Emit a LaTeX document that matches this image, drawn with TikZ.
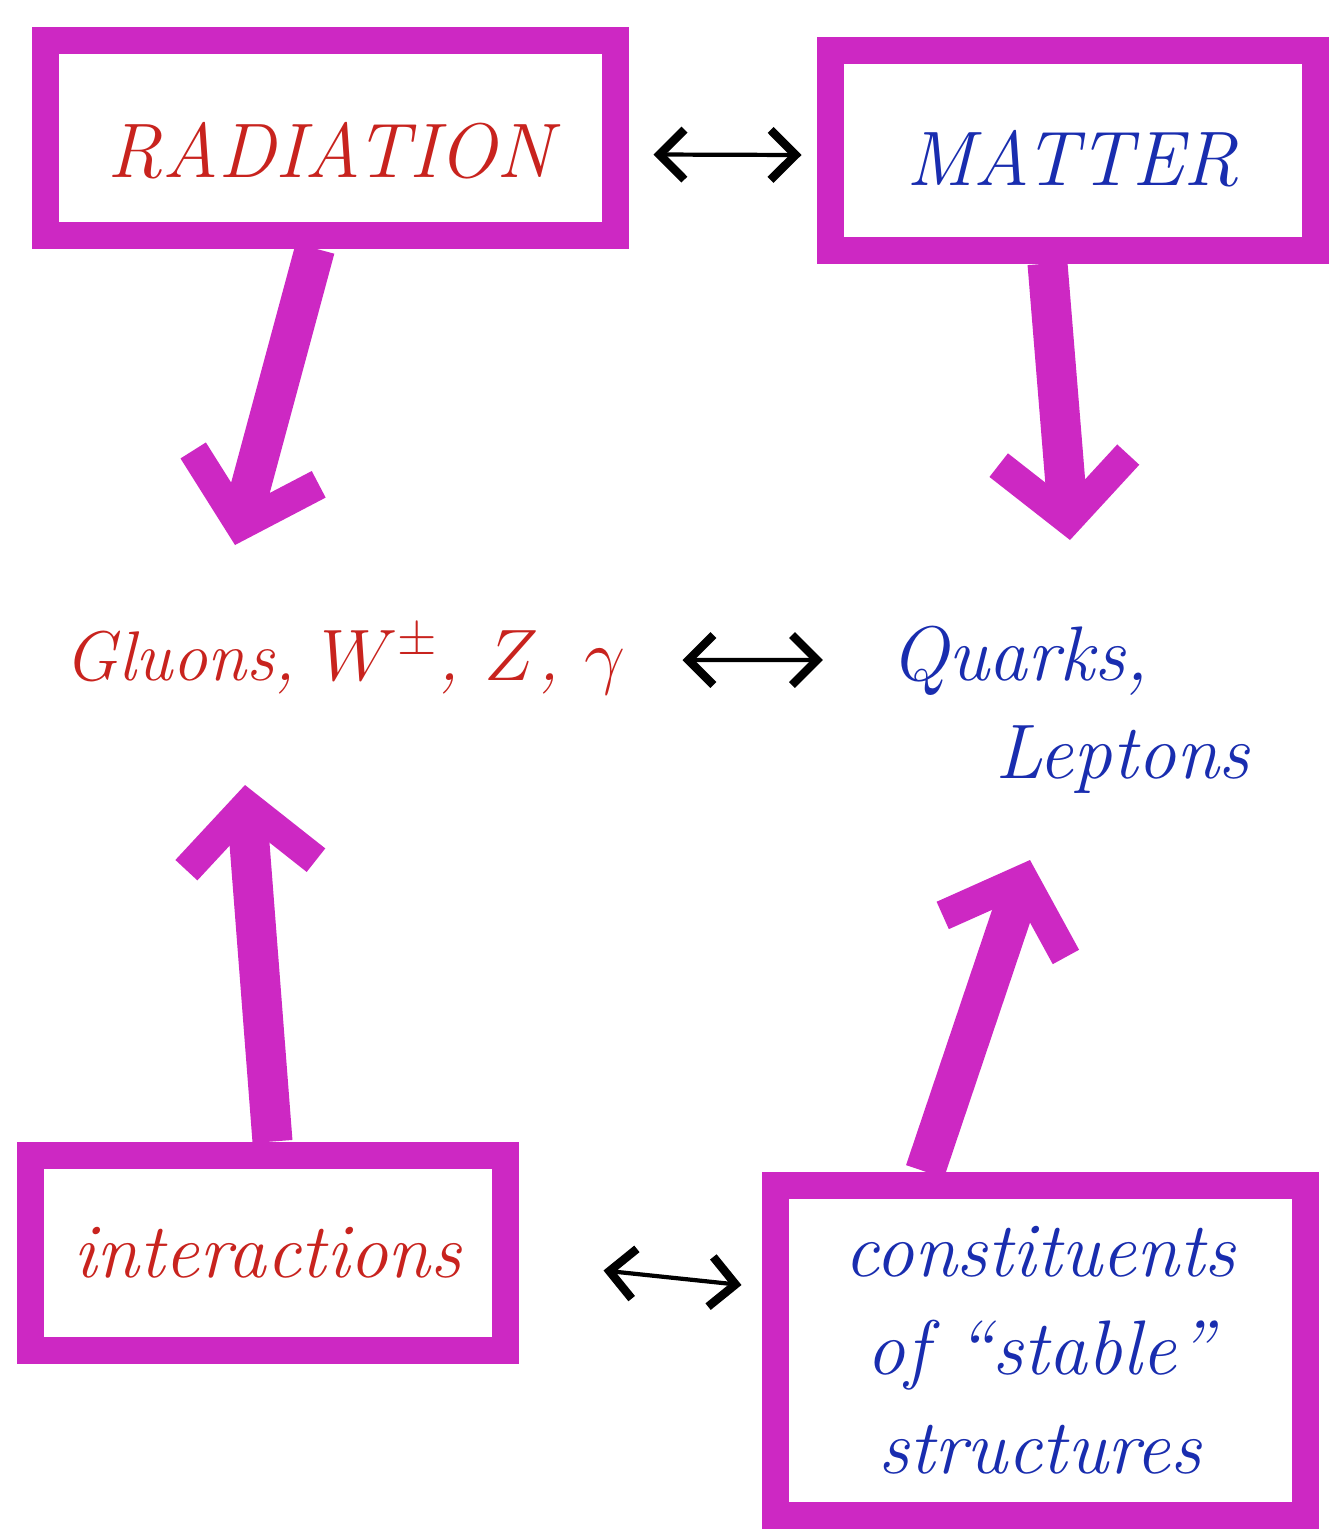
\documentclass[tikz,border=0pt]{standalone}
\usepackage{tikz}
\usetikzlibrary{arrows.meta,positioning,calc}
\usepackage{xcolor}

\definecolor{marker}{RGB}{205,40,195}
\definecolor{inkred}{RGB}{200,35,30}
\definecolor{inkblue}{RGB}{25,45,175}

\begin{document}
\begin{tikzpicture}[
    frame/.style={draw=marker, line width=0.27cm, fill=white, rectangle,
        align=center, inner sep=0pt},
    capsred/.style={text=inkred, font=\fontsize{22}{26}\selectfont\itshape},
    capsblue/.style={text=inkblue, font=\fontsize{22}{26}\selectfont\itshape},
    handred/.style={text=inkred, font=\fontsize{22}{28}\selectfont\itshape, align=center},
    handblue/.style={text=inkblue, font=\fontsize{22}{28}\selectfont\itshape, align=left},
    thickarrow/.style={draw=marker, line width=0.4cm,
        -{Straight Barb[length=6mm, width=13mm, line width=3mm]}},
    dblarrow/.style={{Straight Barb[length=2.5mm, width=5mm, line width=2.4pt]}-{Straight Barb[length=2.5mm, width=5mm, line width=2.4pt]},
        line width=1.2pt, black}
]
\useasboundingbox (0,0) rectangle (13.42,-15.35);

% Top boxes
\node[frame, capsred, minimum width=5.7cm, minimum height=1.95cm,
    text height=1.05cm, text depth=0.25cm] (rad) at (3.30,-1.375) {RADIATION};
\node[frame, capsblue, minimum width=4.85cm, minimum height=2.0cm,
    text height=0.95cm, text depth=0.25cm] (mat) at (10.725,-1.50) {MATTER};

% Particle names
\node[handred, font=\fontsize{20}{28}\selectfont\itshape] (gluons) at (3.45,-6.6) {Gluons, $W^{\pm}$, $Z$, $\gamma$};
\node[handblue] (quarks) at (10.70,-7.1) {Quarks,\\\hspace{1.05cm}Leptons};

% Bottom boxes
\node[frame, handred, minimum width=4.75cm, minimum height=1.95cm] (inter) at (2.675,-12.525) {interactions};
\node[frame, handblue, align=center, minimum width=5.3cm, minimum height=3.3cm] (cons) at (10.40,-13.50)
    {constituents\\of ``stable''\\structures};

% Arrow tips
\coordinate (gtip) at (2.35,-5.45);
\coordinate (qtip) at (10.70,-5.40);
\coordinate (itip) at (2.45,-7.85);
\coordinate (ctip) at (10.30,-8.60);

% Marker arrows
\draw[thickarrow] ([xshift=-0.15cm]rad.south) -- (gtip);
\draw[thickarrow] ([xshift=-0.25cm]mat.south) -- (qtip);
\draw[thickarrow] ([xshift=0.05cm]inter.north) -- (itip);
\draw[thickarrow] ([xshift=-1.15cm]cons.north) -- (ctip);

% Double arrows
\draw[dblarrow] ([xshift=0.25cm,yshift=-0.17cm]rad.east) -- ([xshift=-0.15cm,yshift=-0.05cm]mat.west);
\draw[dblarrow] ([xshift=0.45cm,yshift=0.0cm]gluons.east) -- ([xshift=-0.55cm,yshift=0.5cm]quarks.west);
\draw[dblarrow] ([xshift=0.85cm,yshift=-0.18cm]inter.east) -- ([xshift=-0.2cm,yshift=0.65cm]cons.west);

\end{tikzpicture}
\end{document}
